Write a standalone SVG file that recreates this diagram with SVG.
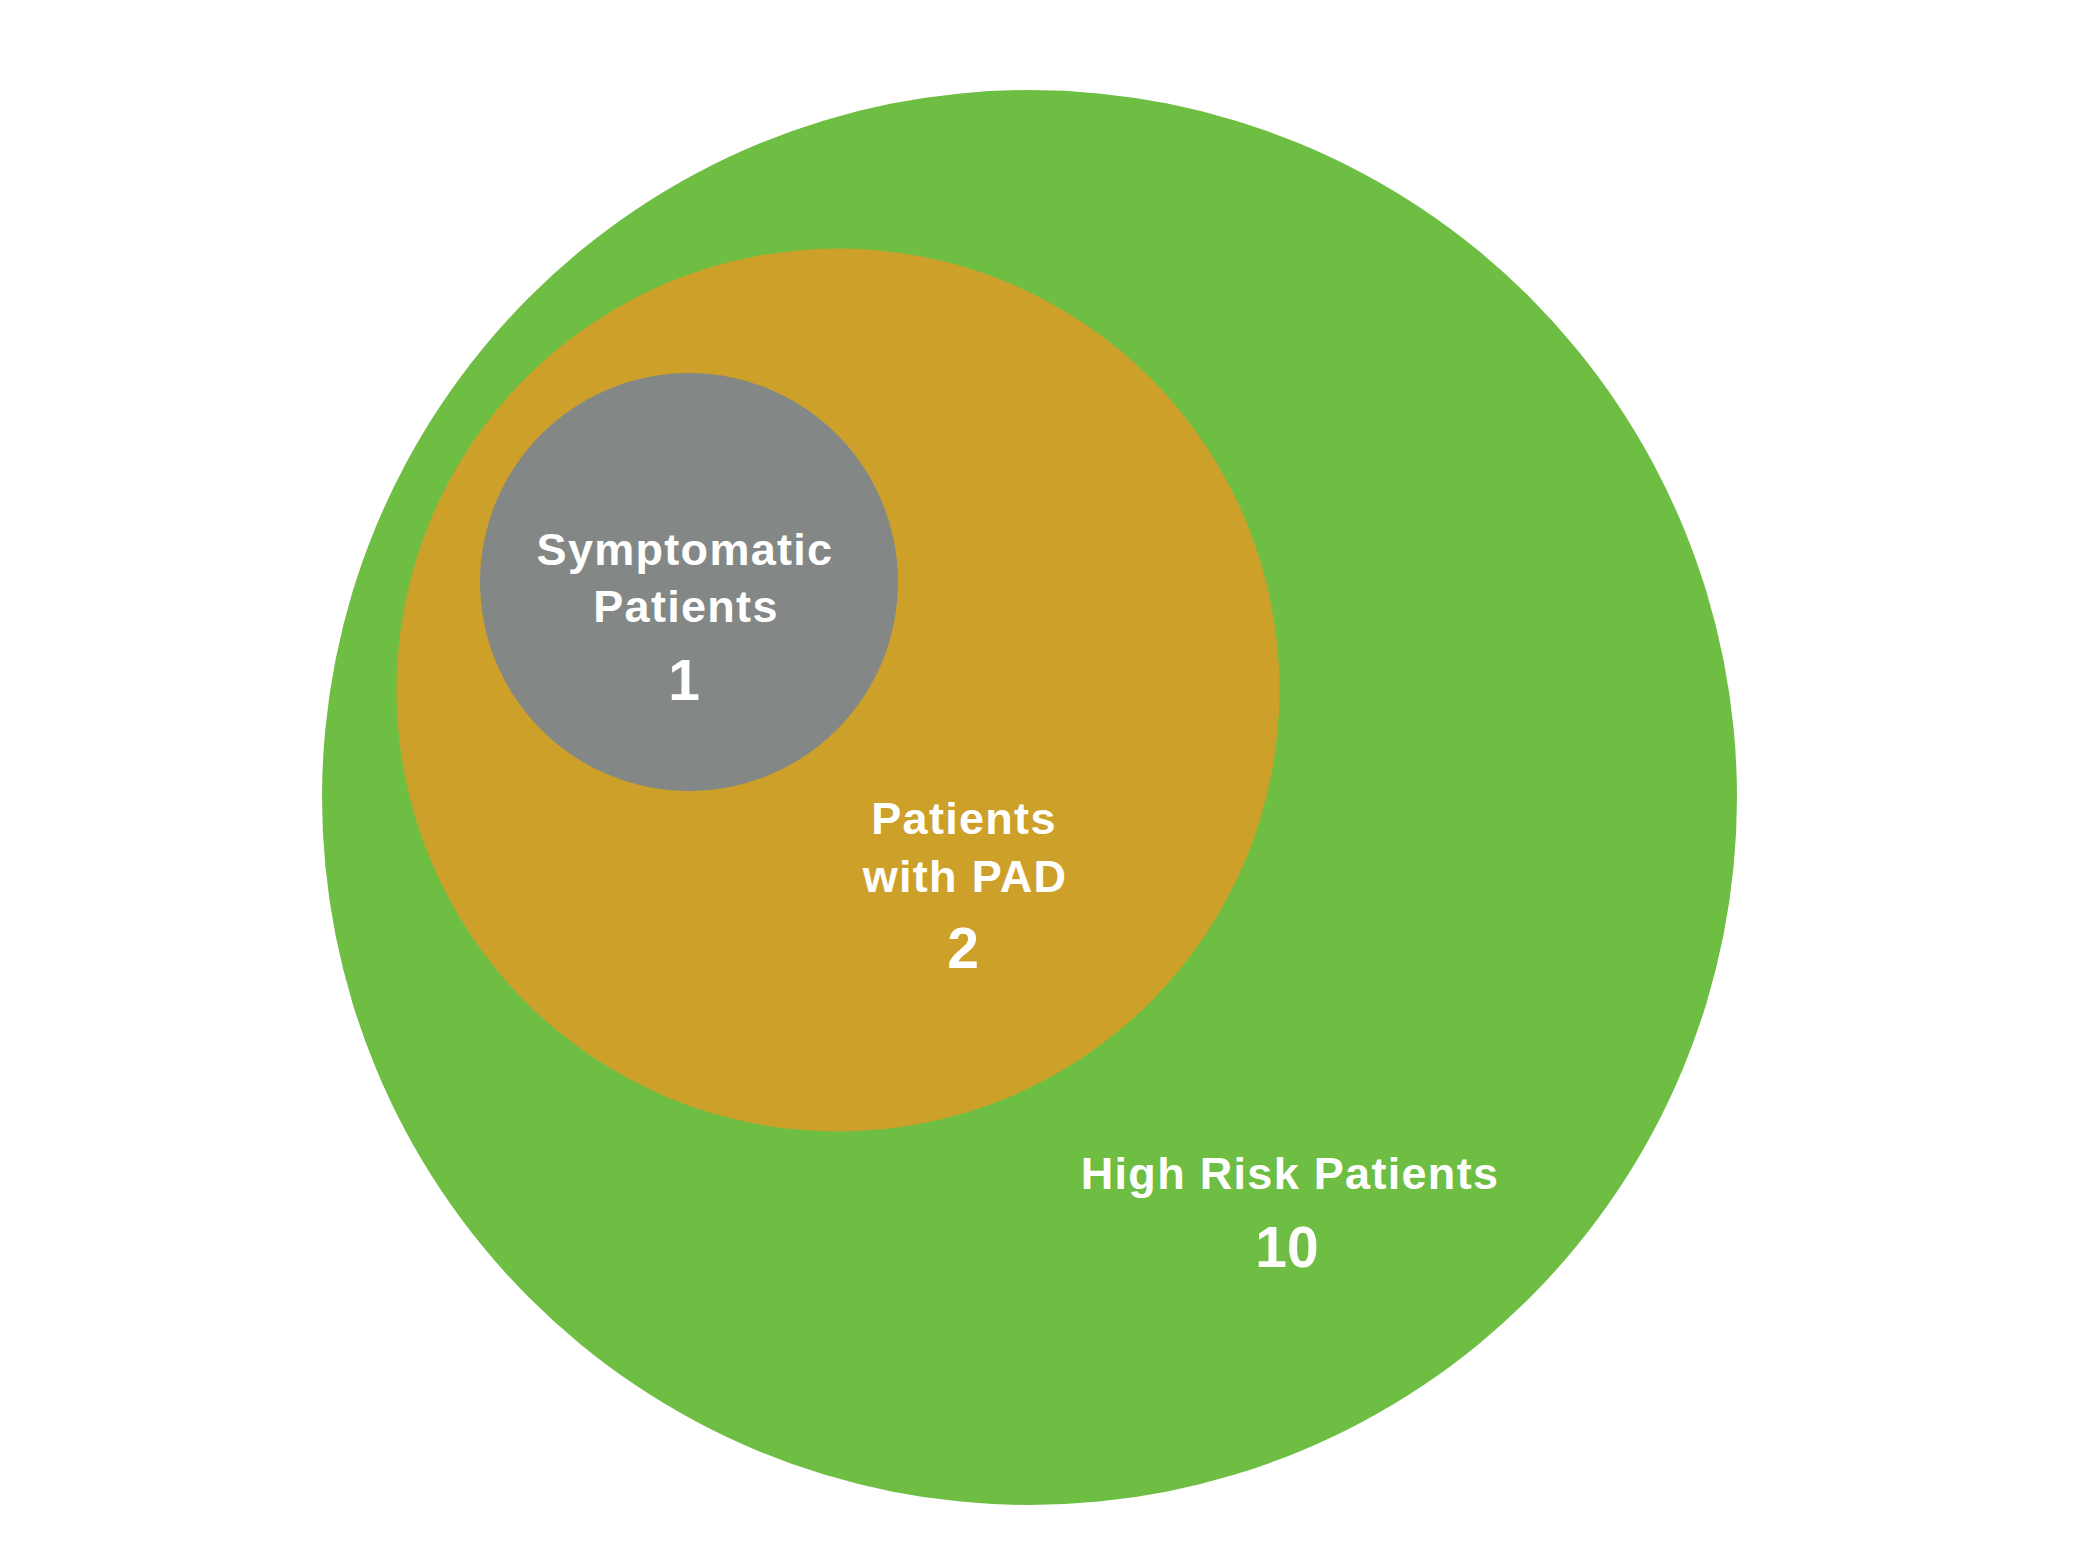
<svg xmlns="http://www.w3.org/2000/svg" width="2079" height="1555" viewBox="0 0 2079 1555">
<style>
.lbl{font-family:"Liberation Sans","Open Sans",sans-serif;font-weight:bold;fill:#ffffff;text-anchor:middle;font-variant-ligatures:none}
.t{font-size:45px;letter-spacing:1.3px}
.n{font-size:57px}
</style>
<rect width="2079" height="1555" fill="#ffffff"/>
<g id="high-risk">
<circle cx="1029.5" cy="797.5" r="707.5" fill="#6fbe44"/>
<text class="lbl t" x="1290" y="1189">High Risk Patients</text>
<text class="lbl n" x="1287" y="1267">10</text>
</g>
<g id="pad">
<circle cx="838" cy="690" r="441.5" fill="#cda02a"/>
<text class="lbl t" x="964" y="834">Patients</text>
<text class="lbl t" x="965" y="892">with PAD</text>
<text class="lbl n" x="963" y="968">2</text>
</g>
<g id="symptomatic">
<circle cx="689" cy="582" r="209" fill="#838886"/>
<text class="lbl t" x="685" y="565">Symptomatic</text>
<text class="lbl t" x="686" y="622">Patients</text>
<text class="lbl n" x="684" y="700">1</text>
</g>
<g id="connectors"/>
</svg>
